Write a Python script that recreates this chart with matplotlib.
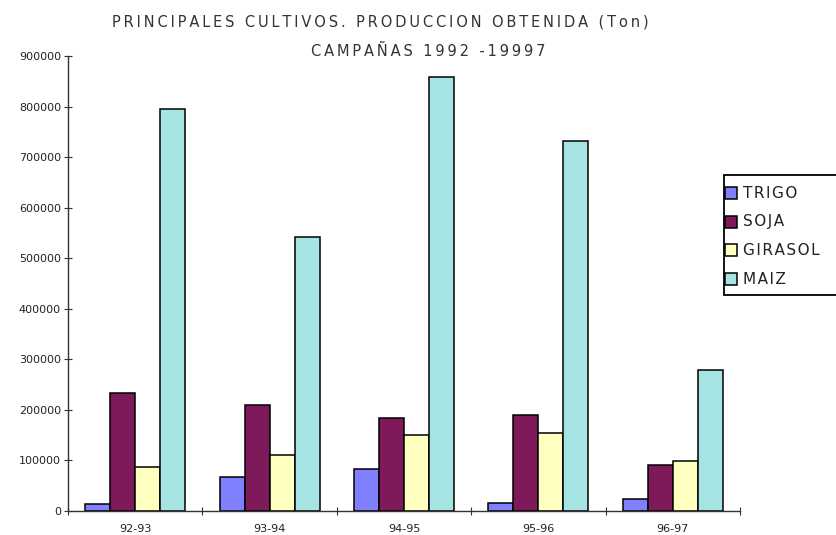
import matplotlib
matplotlib.use("Agg")
import matplotlib.pyplot as plt
from matplotlib.patches import Rectangle
import numpy as np

campaigns = ["92-93", "93-94", "94-95", "95-96", "96-97"]
series_names = ["TRIGO", "SOJA", "GIRASOL", "MAIZ"]
trigo = [14000, 67000, 83000, 16000, 24000]
soja = [234000, 210000, 183000, 190000, 91000]
girasol = [87000, 111000, 151000, 155000, 99000]
maiz = [796000, 542000, 859000, 732000, 278000]
colors = ["#8080ff", "#7f1a5a", "#ffffc0", "#a6e3e3"]
yticks = [0, 100000, 200000, 300000, 400000, 500000, 600000, 700000, 800000, 900000]

W, H = 836, 535
fig = plt.figure(figsize=(W / 100, H / 100), dpi=100)
ax = fig.add_axes([68 / W, 24 / H, (740 - 68) / W, (511 - 56) / H])

x = np.arange(len(campaigns))
bw = 0.186
data = [trigo, soja, girasol, maiz]
for i, (name, vals, c) in enumerate(zip(series_names, data, colors)):
    ax.bar(x + (i - 1.5) * bw, vals, bw, color=c, edgecolor="black", linewidth=1.1, label=name)

ax.set_xlim(-0.5, len(campaigns) - 0.5)
ax.set_ylim(0, 900000)
ax.set_yticks(yticks)
ax.set_yticklabels([str(v) for v in yticks], fontsize=8, color="#222222")
ax.set_xticks(np.arange(len(campaigns) + 1) - 0.5)
ax.set_xticklabels([])
for xi, lab in zip(x, campaigns):
    ax.text(xi, -0.028, lab, transform=ax.get_xaxis_transform(), ha="center", va="top",
            fontsize=8, color="#222222")
ax.tick_params(axis="both", direction="inout", length=6, width=0.8, color="#333333")
ax.tick_params(axis="y", pad=2)
for s in ["top", "right"]:
    ax.spines[s].set_visible(False)
for s in ["left", "bottom"]:
    ax.spines[s].set_color("#333333")
    ax.spines[s].set_linewidth(1)

# legend box drawn in figure pixel coordinates (runs off the right edge like the reference)
def fx(px):
    return px / W

def fy(py):
    return 1 - py / H

fig.patches.append(Rectangle((fx(724), fy(295)), fx(845) - fx(724), fy(175) - fy(295),
                             transform=fig.transFigure, facecolor="white", edgecolor="black",
                             linewidth=1.3, zorder=5))
hs = "\u200a"
for k, (name, c) in enumerate(zip(series_names, colors)):
    yc = 193 + k * 28.7
    fig.patches.append(Rectangle((fx(725), fy(yc + 6)), fx(737) - fx(725), fy(yc - 6) - fy(yc + 6),
                                 transform=fig.transFigure, facecolor=c, edgecolor="black",
                                 linewidth=1.1, zorder=6))
    fig.text(fx(743), fy(yc), hs.join(name), ha="left", va="center", fontsize=11,
             color="#222222", zorder=7)

ts = "\u2009"
fig.text(380 / W, 1 - 22 / H, ts.join("PRINCIPALES CULTIVOS. PRODUCCION OBTENIDA (Ton)"),
         ha="center", va="center", fontsize=10.5, color="#333333")
fig.text(428 / W, 1 - 51 / H, ts.join("CAMPAÑAS 1992 -19997"), ha="center", va="center",
         fontsize=10.5, color="#333333")

fig.savefig("out.png", dpi=100)
